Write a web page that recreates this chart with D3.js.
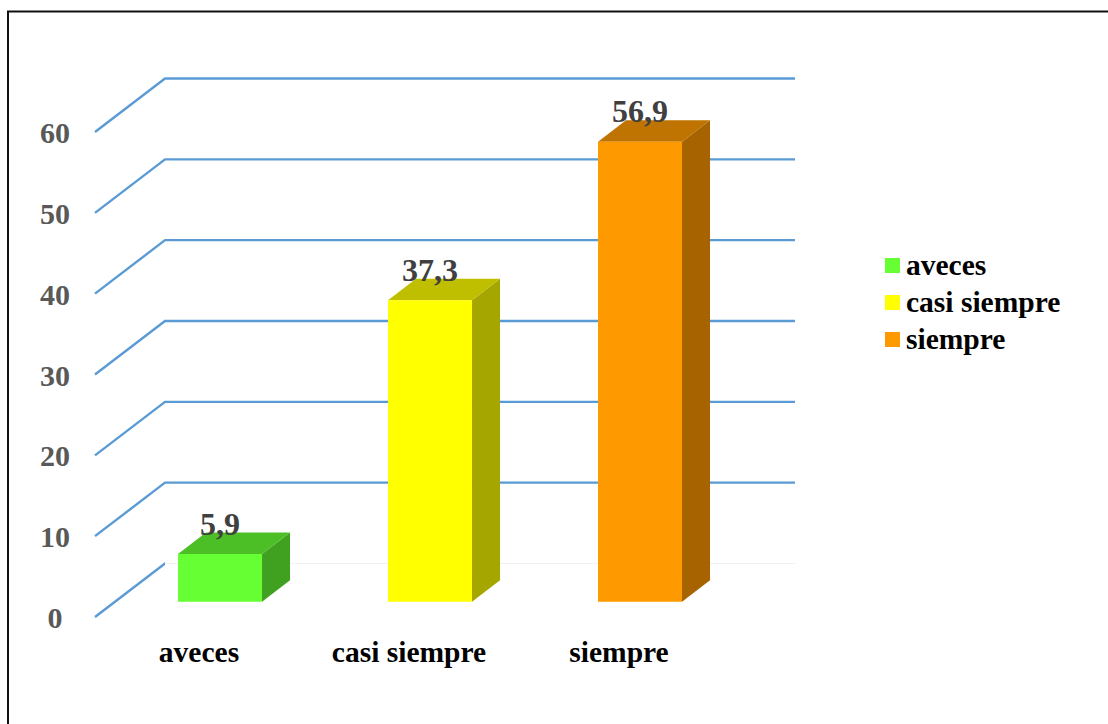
<!DOCTYPE html>
<html>
<head>
<meta charset="utf-8">
<script src="https://cdn.jsdelivr.net/npm/d3@7/dist/d3.min.js"></script>
<style>
  html, body { margin: 0; padding: 0; background: #fff; }
  svg { display: block; }
  text { font-family: "Liberation Serif", "Times New Roman", serif; font-weight: bold; }
</style>
</head>
<body>
<svg id="chart" width="1108" height="724"></svg>
<script>
const categories = ["aveces", "casi siempre", "siempre"];
const values = [5.9, 37.3, 56.9];
const valueLabels = ["5,9", "37,3", "56,9"];
const frontColors = ["#66ff33", "#ffff00", "#ff9900"];
const topColors = ["#4dbf26", "#bfbf00", "#bf7300"];
const sideColors = ["#40a120", "#a6a600", "#a66300"];
const yTicks = [0, 10, 20, 30, 40, 50, 60];

const svg = d3.select("#chart");

// Oblique projection: depth 0 is the front of the floor, depth 1 the back wall.
const depthX = 70, depthY = -53.5;
const x = d3.scaleBand().domain(categories).range([95, 725]).paddingInner(0.6).paddingOuter(0.3);
const y = d3.scaleLinear().domain([0, 60]).range([617, 132]);
const project = (px, py, depth) => [px + depth * depthX, py + depth * depthY];
const barNear = 0.286, barFar = 0.686;

// Page frame: only the top and left edges fall inside the page.
svg.append("path").attr("d", "M8,724V11.5H1108").attr("fill", "none").attr("stroke", "#111").attr("stroke-width", 2);

// Back wall and side wall gridlines
const [xLeft, xRight] = x.range();
const grid = svg.append("g").attr("fill", "none");
grid.selectAll("path").data(yTicks).join("path")
  .attr("d", t => d3.line()([
    project(xLeft, y(t), 0),
    project(xLeft, y(t), 1),
    project(xRight, y(t), 1)
  ]))
  .attr("stroke", "#5b9bd5")
  .attr("stroke-width", 2.4);

// The wall line at zero fades out; only the side wall part stays blue.
const zeroWall = d3.line()([project(xLeft, y(0), 1), project(xRight, y(0), 1)]);
svg.append("path").attr("d", zeroWall).attr("stroke", "#fff").attr("stroke-width", 4).attr("fill", "none");
svg.append("path").attr("d", zeroWall).attr("stroke", "#f0f0f0").attr("stroke-width", 1).attr("fill", "none");

// Bars as three visible faces of a box
const poly = pts => d3.line()(pts) + "Z";
const bars = svg.append("g").selectAll("g").data(categories).join("g");
bars.each(function (c, i) {
  const g = d3.select(this);
  const x0 = x(c), x1 = x0 + x.bandwidth();
  const y0 = y(0), yv = y(values[i]);
  g.append("path").attr("fill", sideColors[i]).attr("d", poly([
    project(x1, y0, barNear), project(x1, y0, barFar),
    project(x1, yv, barFar), project(x1, yv, barNear)
  ]));
  g.append("path").attr("fill", topColors[i]).attr("d", poly([
    project(x0, yv, barNear), project(x1, yv, barNear),
    project(x1, yv, barFar), project(x0, yv, barFar)
  ]));
  g.append("path").attr("fill", frontColors[i]).attr("d", poly([
    project(x0, y0, barNear), project(x1, y0, barNear),
    project(x1, yv, barNear), project(x0, yv, barNear)
  ]));
});

// Value labels above each bar
svg.append("g").selectAll("text").data(categories).join("text")
  .attr("x", c => project(x(c) + x.bandwidth() / 2, 0, barNear)[0])
  .attr("y", (c, i) => project(0, y(values[i]), barFar)[1] + 2)
  .attr("text-anchor", "middle")
  .attr("font-size", 32)
  .attr("fill", "#404040")
  .text((c, i) => valueLabels[i]);

// Value axis labels
svg.append("g").selectAll("text").data(yTicks).join("text")
  .attr("x", 55)
  .attr("y", t => y(t) + 11)
  .attr("text-anchor", "middle")
  .attr("font-size", 30)
  .attr("fill", "#595959")
  .text(d => d);

// Category labels
svg.append("g").selectAll("text").data(categories).join("text")
  .attr("x", c => x(c) + x.bandwidth() / 2 - 1)
  .attr("y", 662)
  .attr("text-anchor", "middle")
  .attr("font-size", 29.5)
  .attr("fill", "#000")
  .text(d => d);

// Legend
const legendY = d3.scalePoint().domain(categories).range([258, 332]);
const legend = svg.append("g").selectAll("g").data(categories).join("g")
  .attr("transform", c => `translate(885,${legendY(c)})`);
legend.append("rect").attr("width", 15).attr("height", 15).attr("fill", (c, i) => frontColors[i]);
legend.append("text").attr("x", 21).attr("y", 17).attr("font-size", 29.5).attr("fill", "#000").text(d => d);
</script>
</body>
</html>
